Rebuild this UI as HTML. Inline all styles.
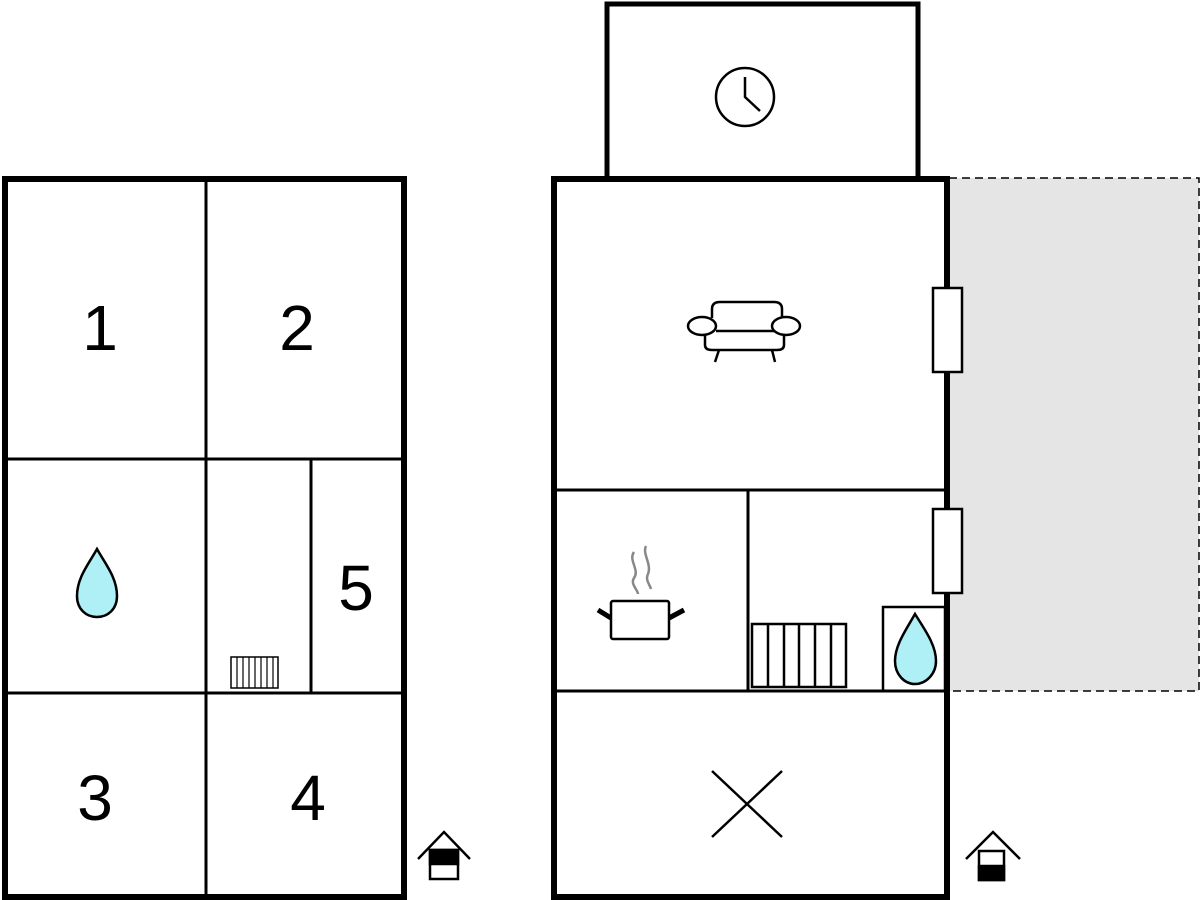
<!DOCTYPE html>
<html><head><meta charset="utf-8"><style>
html,body{margin:0;padding:0;background:#fff;}
svg{display:block;}
text{font-family:"Liberation Sans",sans-serif;font-size:64px;fill:#000;}
</style></head><body>
<svg width="1201" height="900" viewBox="0 0 1201 900" xmlns="http://www.w3.org/2000/svg">
<!-- Left plan -->
<g fill="none" stroke="#000">
<rect x="5" y="179" width="399" height="718" stroke-width="6"/>
<line x1="206" y1="179" x2="206" y2="897" stroke-width="3"/>
<line x1="5" y1="459" x2="404" y2="459" stroke-width="3"/>
<line x1="5" y1="693" x2="404" y2="693" stroke-width="3"/>
<line x1="311" y1="459" x2="311" y2="693" stroke-width="3"/>
<rect x="231" y="657" width="47" height="31" stroke-width="1.5"/>
<g stroke-width="1.2"><line x1="237" y1="657" x2="237" y2="688"/><line x1="243" y1="657" x2="243" y2="688"/><line x1="249" y1="657" x2="249" y2="688"/><line x1="255" y1="657" x2="255" y2="688"/><line x1="261" y1="657" x2="261" y2="688"/><line x1="267" y1="657" x2="267" y2="688"/><line x1="273" y1="657" x2="273" y2="688"/></g>
</g>
<text x="100" y="350" text-anchor="middle">1</text>
<text x="297" y="350" text-anchor="middle">2</text>
<text x="356" y="610" text-anchor="middle">5</text>
<text x="95" y="820" text-anchor="middle">3</text>
<text x="308" y="820" text-anchor="middle">4</text>
<path d="M97,549 C88,565 77,578 77,596 C77,609 86,617 97,617 C108,617 117,609 117,596 C117,578 106,565 97,549 Z" fill="#aef0f5" stroke="#000" stroke-width="2.5"/>
<!-- left house marker -->
<g stroke="#000" fill="none" stroke-width="2.5">
<polyline points="418,859 444,832 470,859"/>
<rect x="430" y="850" width="28" height="29" fill="#fff"/>
<rect x="430" y="850" width="28" height="14" fill="#000"/>
</g>
<!-- Grey terrace -->
<rect x="949" y="178" width="250" height="513" fill="#e5e5e5" stroke="#000" stroke-width="1.5" stroke-dasharray="8,5"/>
<!-- Right plan -->
<g fill="none" stroke="#000">
<rect x="607" y="4" width="311" height="175" stroke-width="5" fill="#fff"/>
<rect x="554" y="179" width="393" height="718" stroke-width="6" fill="#fff"/>
<line x1="554" y1="179" x2="947" y2="179" stroke-width="3"/>
<line x1="554" y1="490" x2="947" y2="490" stroke-width="3"/>
<line x1="554" y1="691" x2="947" y2="691" stroke-width="3"/>
<line x1="748" y1="490" x2="748" y2="691" stroke-width="3"/>
<rect x="883" y="607" width="62" height="84" stroke-width="2.5"/>
<rect x="933" y="288" width="29" height="84" stroke-width="2.5" fill="#fff"/>
<rect x="933" y="509" width="29" height="84" stroke-width="2.5" fill="#fff"/>
<!-- radiator -->
<rect x="752" y="624" width="94" height="63" stroke-width="2.5"/>
<g stroke-width="2.5"><line x1="768" y1="624" x2="768" y2="687"/><line x1="784" y1="624" x2="784" y2="687"/><line x1="799" y1="624" x2="799" y2="687"/><line x1="815" y1="624" x2="815" y2="687"/><line x1="831" y1="624" x2="831" y2="687"/></g>
<!-- clock -->
<circle cx="745" cy="97" r="29" stroke-width="2.5"/>
<polyline points="745,77 745,97 760,111" stroke-width="2.5"/>
<!-- sofa -->
<g stroke-width="2.5">
<path d="M712,318 L712,309 Q712,302 720,302 L774,302 Q782,302 782,309 L782,318"/>
<line x1="716" y1="331" x2="778" y2="331"/>
<ellipse cx="702" cy="326" rx="14" ry="9" fill="#fff"/>
<ellipse cx="786" cy="326" rx="14" ry="9" fill="#fff"/>
<path d="M705,335 L705,345 Q705,350 712,350 L777,350 Q784,350 784,345 L784,335"/>
<line x1="719" y1="350" x2="715" y2="362"/>
<line x1="772" y1="350" x2="775" y2="362"/>
</g>
<!-- pot -->
<rect x="611" y="601" width="58" height="38" rx="2" stroke-width="2.5"/>
<line x1="598" y1="610" x2="611" y2="618" stroke-width="5"/>
<line x1="684" y1="610" x2="669" y2="618" stroke-width="5"/>
<path d="M634,552 C628,560 640,570 634,578 C630,584 638,590 638,594" stroke="#888" stroke-width="2.5"/>
<path d="M646,546 C642,554 652,564 648,574 C645,580 650,585 651,589" stroke="#888" stroke-width="2.5"/>
<!-- X -->
<line x1="712" y1="771" x2="782" y2="837" stroke-width="2.5"/>
<line x1="782" y1="771" x2="712" y2="837" stroke-width="2.5"/>
</g>
<path d="M915,614 C906,630 895,645 895,661 C895,674 904,684 915,684 C926,684 936,674 936,661 C936,645 925,630 915,614 Z" fill="#aef0f5" stroke="#000" stroke-width="2.5"/>
<!-- right house marker -->
<g stroke="#000" fill="none" stroke-width="2.5">
<polyline points="966,859 993,832 1020,859"/>
<rect x="979" y="851" width="25" height="29" fill="#fff"/>
<rect x="979" y="866" width="25" height="14" fill="#000"/>
</g>
</svg>
</body></html>
